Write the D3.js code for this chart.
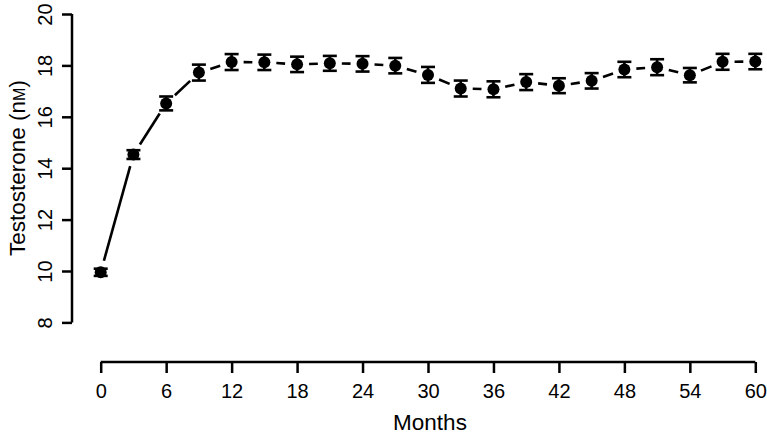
<!DOCTYPE html>
<html>
<head>
<meta charset="utf-8">
<script src="https://d3js.org/d3.v7.min.js"></script>
<style>
  body { margin: 0; background: #fff; }
  text { font-family: "Liberation Sans", Arial, sans-serif; fill: #000; }
</style>
</head>
<body>
<div id="chart"></div>
<script>
// data
var months = [0, 3, 6, 9, 12, 15, 18, 21, 24, 27, 30, 33, 36, 39, 42, 45, 48, 51, 54, 57, 60];
var testo  = [9.95, 14.53, 16.52, 17.72, 18.13, 18.12, 18.04, 18.08, 18.06, 17.99, 17.63, 17.1, 17.07, 17.35, 17.21, 17.4, 17.84, 17.93, 17.62, 18.14, 18.15];
var sem    = [0.14, 0.17, 0.27, 0.31, 0.31, 0.3, 0.3, 0.29, 0.3, 0.3, 0.31, 0.31, 0.31, 0.31, 0.29, 0.3, 0.3, 0.31, 0.28, 0.31, 0.3];
var xTicks = [0, 6, 12, 18, 24, 30, 36, 42, 48, 54, 60];
var yTicks = [8, 10, 12, 14, 16, 18, 20];

var W = 767, H = 436;

var svg = d3.select("#chart").append("svg")
    .attr("width", W)
    .attr("height", H);

var x = d3.scaleLinear().domain([0, 60]).range([100.7, 755.3]);
var y = d3.scaleLinear().domain([8, 20]).range([322.4, 14]);

// axes, R style (detached)
var xAxis = svg.append("g")
    .attr("transform", "translate(0,362)")
    .call(d3.axisBottom(x).tickValues(xTicks).tickSize(11).tickPadding(11).tickFormat(d3.format("d")));
var yAxis = svg.append("g")
    .attr("transform", "translate(72,0)")
    .call(d3.axisLeft(y).tickValues(yTicks).tickSize(10).tickPadding(5).tickFormat(d3.format("d")));

[xAxis, yAxis].forEach(function(a) {
  a.select(".domain").attr("stroke", "#000").attr("stroke-width", 2.5)
    .attr("d", a === xAxis ? "M" + x(0) + ",0H" + x(60) : "M0," + y(8) + "V" + y(20));
  a.selectAll(".tick line").attr("stroke", "#000").attr("stroke-width", 2.5);
  a.selectAll(".tick text").style("font-size", "20px").attr("fill", "#000");
});
// rotated y tick labels
yAxis.selectAll(".tick text")
    .attr("text-anchor", "middle")
    .attr("transform", "translate(-27,0) rotate(-90)")
    .attr("x", 0).attr("dy", "0.36em");

// axis titles
svg.append("text")
    .attr("x", 430).attr("y", 430)
    .attr("text-anchor", "middle")
    .style("font-size", "22.5px")
    .text("Months");

var yt = svg.append("text")
    .attr("transform", "translate(25,168) rotate(-90)")
    .attr("text-anchor", "middle")
    .style("font-size", "22.5px");
yt.append("tspan").text("Testosterone (n");
yt.append("tspan").style("font-size", "16px").text("M");
yt.append("tspan").text(")");

// connecting line segments with gaps around points (type = "b")
var gap = 12;
var pts = months.map(function(m, i) { return [x(m), y(testo[i])]; });
var segs = [];
for (var i = 0; i < pts.length - 1; i++) {
  var a = pts[i], b = pts[i + 1];
  var dx = b[0] - a[0], dy = b[1] - a[1];
  var len = Math.sqrt(dx * dx + dy * dy);
  if (len <= 2 * gap) continue;
  var ux = dx / len, uy = dy / len;
  segs.push([a[0] + ux * gap, a[1] + uy * gap, b[0] - ux * gap, b[1] - uy * gap]);
}
svg.append("g").selectAll("line")
    .data(segs)
    .enter().append("line")
    .attr("x1", function(d) { return d[0]; })
    .attr("y1", function(d) { return d[1]; })
    .attr("x2", function(d) { return d[2]; })
    .attr("y2", function(d) { return d[3]; })
    .attr("stroke", "#000")
    .attr("stroke-width", 2.6);

// error bars
var eb = svg.append("g").attr("stroke", "#000").attr("stroke-width", 2.6);
months.forEach(function(m, i) {
  var cx = x(m), y1 = y(testo[i] + sem[i]), y2 = y(testo[i] - sem[i]);
  eb.append("line").attr("x1", cx).attr("x2", cx).attr("y1", y1).attr("y2", y2);
  eb.append("line").attr("x1", cx - 7).attr("x2", cx + 7).attr("y1", y1).attr("y2", y1);
  eb.append("line").attr("x1", cx - 7).attr("x2", cx + 7).attr("y1", y2).attr("y2", y2);
});

// points
svg.append("g").selectAll("circle")
    .data(months)
    .enter().append("circle")
    .attr("cx", function(d) { return x(d); })
    .attr("cy", function(d, i) { return y(testo[i]); })
    .attr("r", 6)
    .attr("fill", "#000");
</script>
</body>
</html>
